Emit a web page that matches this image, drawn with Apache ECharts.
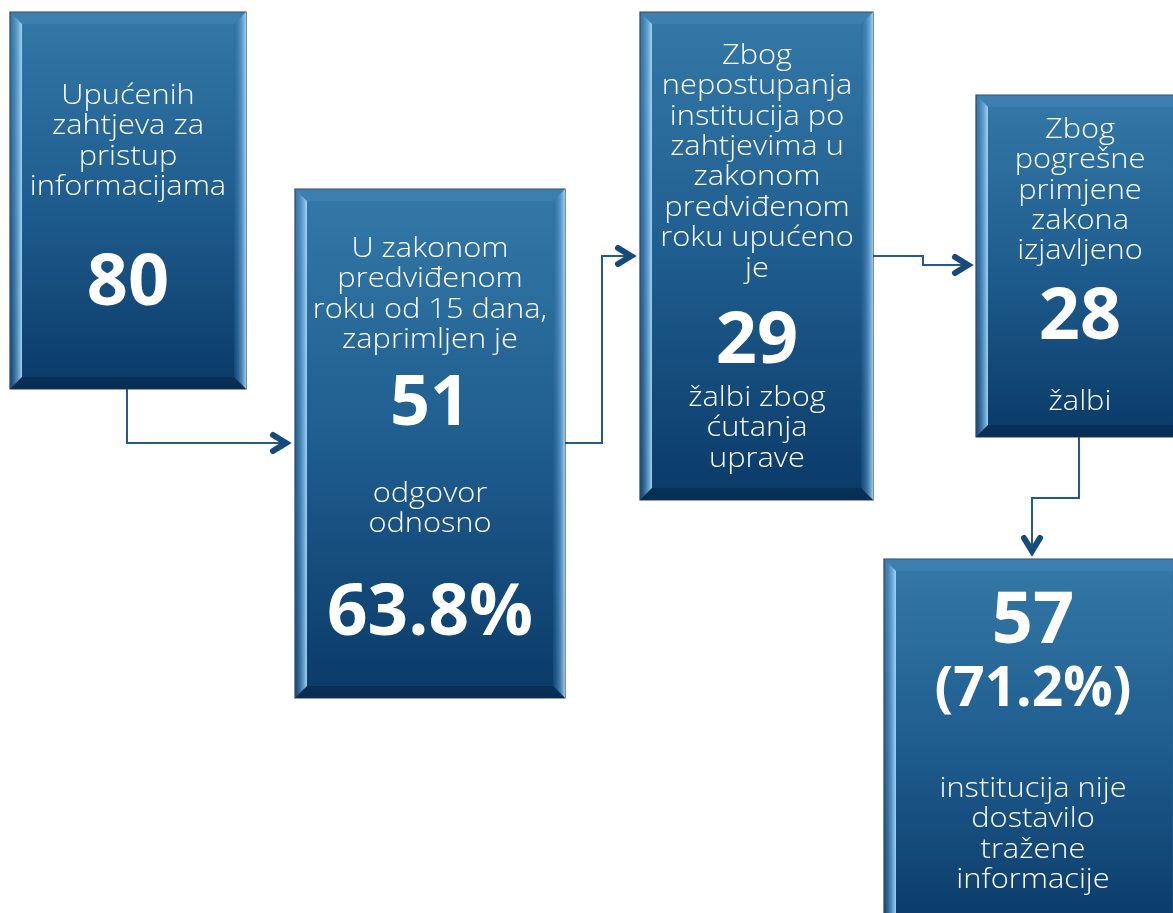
<!DOCTYPE html>
<html>
<head>
<meta charset="utf-8">
<script src="https://cdn.jsdelivr.net/npm/echarts@6/dist/echarts.min.js"></script>
<style>
html,body{margin:0;padding:0;background:#ffffff;}
#chart{width:1173px;height:913px;}
</style>
</head>
<body>
<div id="chart"></div>
<script>
// ---- data ----
const boxNames = ['zahtjevi', 'odgovori', 'cutanje', 'pogresna', 'nedostavljeno'];
const headTexts = [
  ['Upućenih', 'zahtjeva za', 'pristup', 'informacijama'],
  ['U zakonom', 'predviđenom', 'roku od 15 dana,', 'zaprimljen je'],
  ['Zbog', 'nepostupanja', 'institucija po', 'zahtjevima u', 'zakonom', 'predviđenom', 'roku upućeno', 'je'],
  ['Zbog', 'pogrešne', 'primjene', 'zakona', 'izjavljeno'],
  []
];
const valueTexts = ['80', '51', '29', '28', '57'];
const tailTexts = [
  [],
  ['odgovor', 'odnosno'],
  ['žalbi zbog', 'ćutanja', 'uprave'],
  ['žalbi'],
  ['institucija nije', 'dostavilo', 'tražene', 'informacije']
];
const shareTexts = ['', '63.8%', '', '', '(71.2%)'];

// ---- layout (positions in diagram pixels, mapped through hidden axes) ----
const boxRects = [
  [10, 12, 246, 389],
  [295, 189, 565, 698],
  [640, 12, 873, 500],
  [976, 95, 1186, 437],
  [884, 559, 1184, 930]
];
// [textCenterX, headFirstY, valueY, tailFirstY, shareY]
const textLayout = [
  [128, 96, 284, 0, 0],
  [430, 249, 405, 494, 615],
  [757, 56, 342, 398, 0],
  [1080, 130, 318, 402, 0],
  [1033, 0, 622, 789, 690]
];
const lineStep = 30.4;
const arrowPaths = [
  [[127, 389], [127, 443], [286, 443]],
  [[565, 443], [602, 443], [602, 256], [631, 256]],
  [[873, 256], [923, 256], [923, 265], [968, 265]],
  [[1079, 437], [1079, 498], [1032, 498], [1032, 551]]
];

const FONT = '"Open Sans", "Noto Sans", sans-serif';

function renderBox(params, api) {
  const i = params.dataIndex;
  const r = boxRects[i];
  const p0 = api.coord([r[0], r[1]]);
  const p1 = api.coord([r[2], r[3]]);
  const x0 = p0[0], y0 = p0[1], x1 = p1[0], y1 = p1[1];
  const b = 12;
  const children = [];
  children.push({
    type: 'rect',
    shape: {x: x0, y: y0, width: x1 - x0, height: y1 - y0},
    style: {
      fill: new echarts.graphic.LinearGradient(0, 0, 0, 1, [
        {offset: 0, color: '#3479a7'},
        {offset: 0.5, color: '#1f5d8f'},
        {offset: 1, color: '#0a3a68'}
      ]),
      stroke: '#2b3f55', lineWidth: 1.2
    }
  });
  children.push({
    type: 'polygon',
    shape: {points: [[x0, y0], [x1, y0], [x1 - b, y0 + b], [x0 + b, y0 + b]]},
    style: {fill: 'rgba(80,140,190,0.35)'}
  });
  children.push({
    type: 'polygon',
    shape: {points: [[x0, y0], [x0 + b, y0 + b], [x0 + b, y1 - b], [x0, y1]]},
    style: {
      fill: new echarts.graphic.LinearGradient(0, 0, 1, 0, [
        {offset: 0, color: 'rgba(60,120,170,0.2)'},
        {offset: 0.55, color: 'rgba(120,180,225,0.6)'},
        {offset: 1, color: 'rgba(165,218,252,0.95)'}
      ])
    }
  });
  children.push({
    type: 'polygon',
    shape: {points: [[x1, y0], [x1, y1], [x1 - b, y1 - b], [x1 - b, y0 + b]]},
    style: {
      fill: new echarts.graphic.LinearGradient(0, 0, 1, 0, [
        {offset: 0, color: 'rgba(40,100,150,0.3)'},
        {offset: 0.6, color: 'rgba(110,170,220,0.6)'},
        {offset: 1, color: 'rgba(170,220,250,0.9)'}
      ])
    }
  });
  children.push({
    type: 'polygon',
    shape: {points: [[x0, y1], [x1, y1], [x1 - b, y1 - b], [x0 + b, y1 - b]]},
    style: {fill: 'rgba(5,30,60,0.45)'}
  });

  const L = textLayout[i];
  const cx = api.coord([L[0], 0])[0];
  function addText(str, yv, size, weight, sx) {
    const y = api.coord([0, yv])[1];
    children.push({
      type: 'text',
      x: cx, y: y, scaleX: sx,
      style: {
        text: str, x: 0, y: 0,
        fill: '#ffffff',
        font: weight + ' ' + size + 'px ' + FONT,
        align: 'center', verticalAlign: 'middle'
      }
    });
  }
  headTexts[i].forEach((t, k) => addText(t, L[1] + k * lineStep, 27.5, '300', 1.12));
  const big = (i === 1) ? 70 : 72;
  addText(valueTexts[i], L[2], big, 'bold', 1);
  tailTexts[i].forEach((t, k) => addText(t, L[3] + k * lineStep, 27.5, '300', 1.12));
  if (shareTexts[i]) addText(shareTexts[i], L[4], i === 4 ? 55 : 71, 'bold', 1);
  return {type: 'group', children: children};
}

function renderArrow(params, api) {
  const pts = arrowPaths[params.dataIndex].map(p => api.coord(p));
  const n = pts.length;
  const tip = pts[n - 1], prev = pts[n - 2];
  const dx = tip[0] - prev[0], dy = tip[1] - prev[1];
  const len = Math.sqrt(dx * dx + dy * dy);
  const ux = dx / len, uy = dy / len;
  const a = 13, w = 8;
  const head = [
    [tip[0] - ux * a + uy * w, tip[1] - uy * a - ux * w],
    [tip[0], tip[1]],
    [tip[0] - ux * a - uy * w, tip[1] - uy * a + ux * w]
  ];
  return {
    type: 'group',
    children: [
      {type: 'polyline', shape: {points: pts}, style: {stroke: '#255987', lineWidth: 2, fill: null}},
      {type: 'polyline', shape: {points: head}, style: {stroke: '#164a7a', lineWidth: 6, fill: null, lineCap: 'round', lineJoin: 'miter'}}
    ]
  };
}

const chart = echarts.init(document.getElementById('chart'), null, {renderer: 'canvas'});
chart.setOption({
  animation: false,
  backgroundColor: '#ffffff',
  grid: {left: 0, right: 0, top: 0, bottom: 0},
  xAxis: {type: 'value', min: 0, max: 1173, show: false},
  yAxis: {type: 'value', min: 0, max: 913, inverse: true, show: false},
  series: [
    {
      type: 'custom', name: 'veze', coordinateSystem: 'cartesian2d', clip: false,
      renderItem: renderArrow,
      data: arrowPaths.map((p, k) => [k])
    },
    {
      type: 'custom', name: 'okviri', coordinateSystem: 'cartesian2d', clip: false,
      renderItem: renderBox,
      data: boxNames.map((n, k) => ({name: n, value: [k]}))
    }
  ]
});
</script>
</body>
</html>
